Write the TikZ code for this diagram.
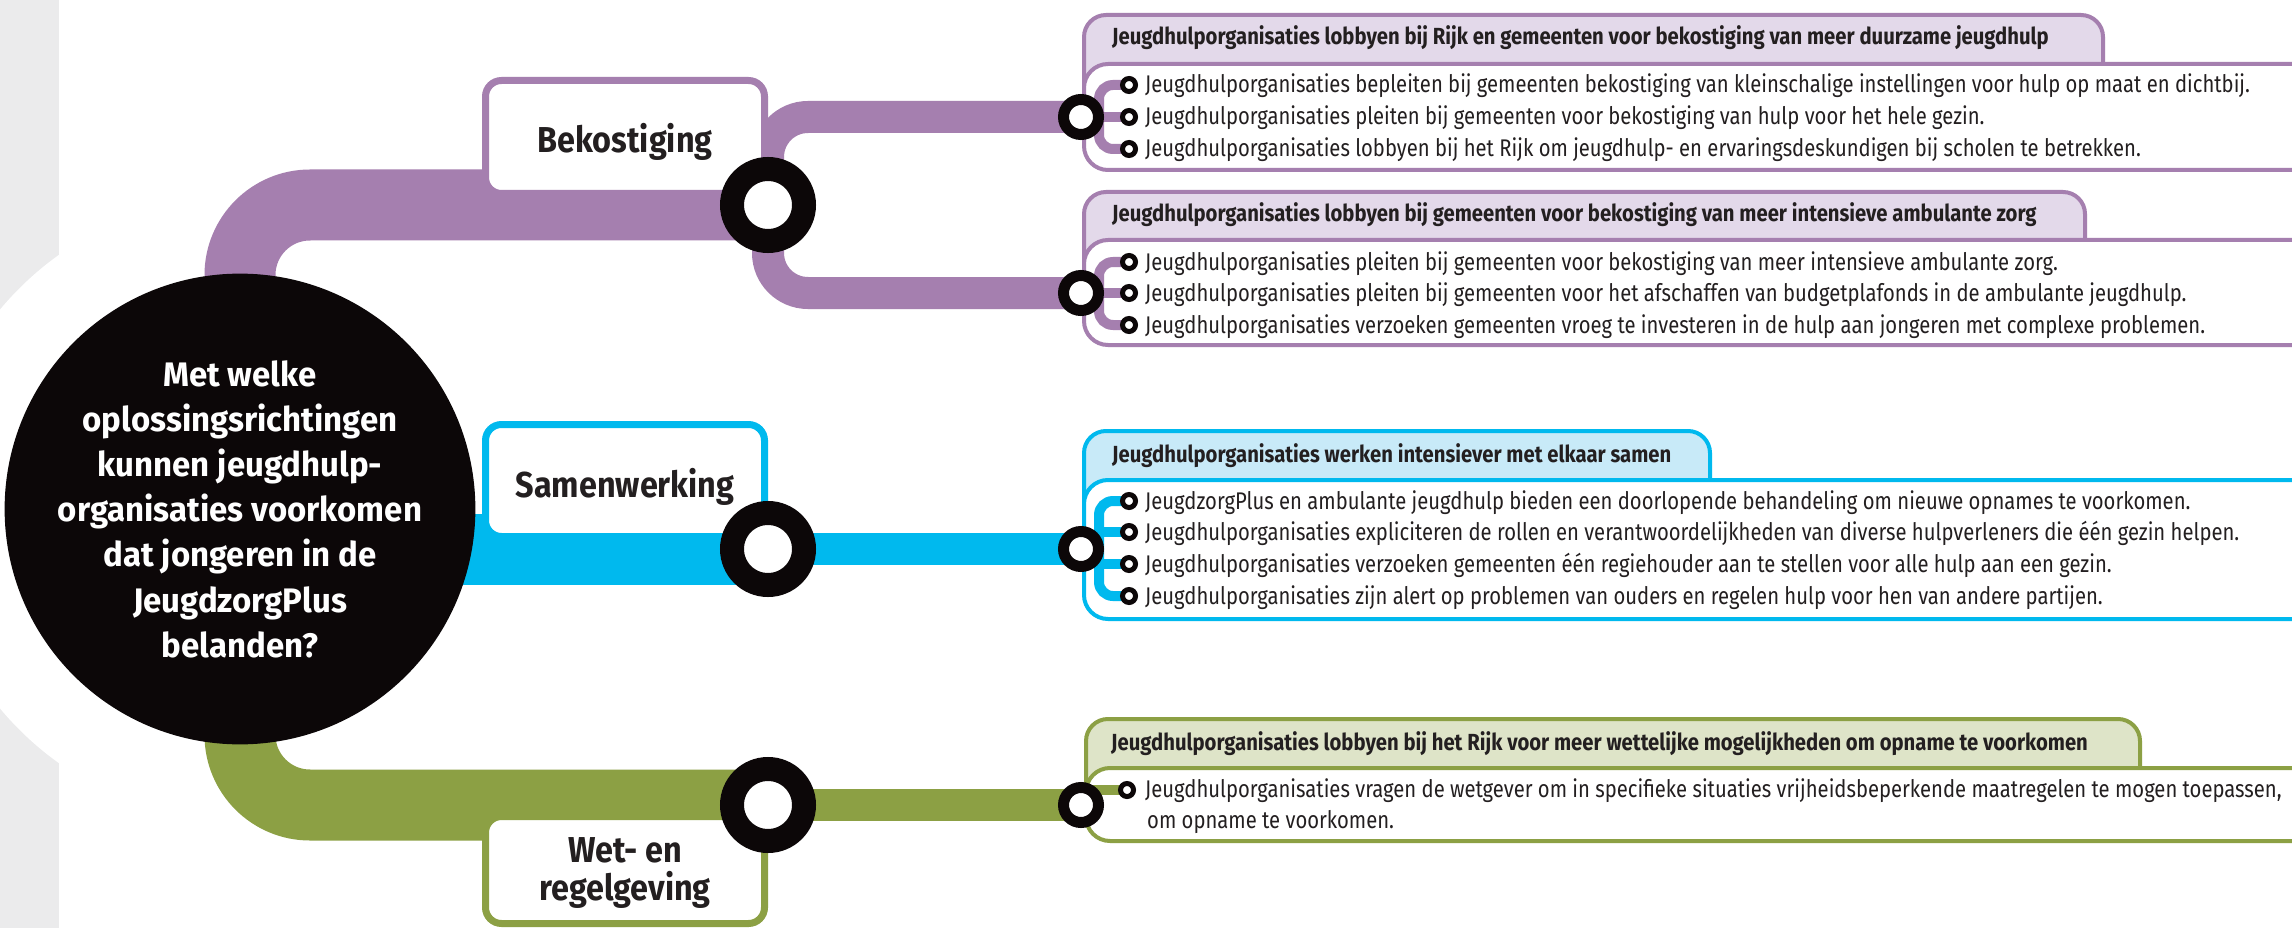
\documentclass[tikz,border=0pt]{standalone}
\usepackage{fontspec}
\setmainfont{Fira Sans}
\newfontfamily\itemfont[FakeStretch=0.84]{Fira Sans}
\newfontfamily\headfont[FakeStretch=0.87]{Fira Sans}
\newfontfamily\labfont[FakeStretch=0.9]{Fira Sans}
\newfontfamily\qfont[FakeStretch=0.97]{Fira Sans}
\usetikzlibrary{calc}
\pgfdeclarelayer{bg}
\pgfdeclarelayer{lines}
\pgfsetlayers{bg,lines,main}
\definecolor{purpleC}{HTML}{A57FAF}
\definecolor{purpleL}{HTML}{E3D9EA}
\definecolor{cyanC}{HTML}{00B9EE}
\definecolor{cyanL}{HTML}{C8EAF8}
\definecolor{greenC}{HTML}{8CA044}
\definecolor{greenL}{HTML}{DEE4C8}
\definecolor{grayC}{HTML}{EBEBEC}
\definecolor{ringC}{HTML}{0C0708}
\definecolor{txtC}{HTML}{231F20}
\tikzset{
  band/.style={line width=71pt, rounded corners=70pt},
  branch/.style={line width=32pt, rounded corners=40pt},
  sub/.style={line width=10pt, rounded corners=14pt},
  bigring/.style={circle, draw=ringC, line width=24pt, fill=white, minimum size=72pt, inner sep=0pt},
  smallring/.style={circle, draw=ringC, line width=11pt, fill=white, minimum size=35pt, inner sep=0pt},
  bullet/.style={circle, draw=ringC, line width=5pt, fill=white, minimum size=13pt, inner sep=0pt},
  labelbox/.style={draw=#1, line width=7pt, fill=white, rounded corners=16pt, minimum width=279pt, inner sep=0pt},
  labeltext/.style={font=\labfont\bfseries\fontsize{36}{38}\selectfont, text=txtC, inner sep=0pt, anchor=base},
  headtext/.style={font=\headfont\bfseries\fontsize{23.3}{27}\selectfont, text=txtC, inner sep=0pt, anchor=base west},
  itemtext/.style={font=\itemfont\fontsize{24.1}{31}\selectfont, text=txtC, inner sep=0pt, anchor=base west},
  boxline/.style={draw=#1, line width=4pt},
}
\begin{document}
\begin{tikzpicture}[x=1pt,y=-1pt]
\useasboundingbox (0,0) rectangle (2292,928);

% central question
\node[circle, fill=ringC, minimum size=446pt, inner sep=0pt, align=center, text=white,
      font=\qfont\bfseries\fontsize{34}{45.2}\selectfont] (q) at (240,509)
  {Met welke\\oplossingsrichtingen\\kunnen jeugdhulp-\\organisaties voorkomen\\dat jongeren in de\\JeugdzorgPlus\\belanden?};

% label boxes
\node[labelbox=purpleC, minimum height=113pt] (lB) at (625,137) {};
\node[labelbox=cyanC, minimum height=112pt] (lS) at (625,480.5) {};
\node[labelbox=greenC, minimum height=107pt] (lW) at (625,870) {};
\node[labeltext] (tB) at (625,153) {Bekostiging};
\node[labeltext] (tS) at (625,497) {Samenwerking};
\node[labeltext] (tW1) at (625,862) {Wet- en};
\node[labeltext] (tW2) at (625,900) {regelgeving};

% rings
\node[bigring] (rB) at (768,205) {};
\node[bigring] (rS) at (768,549) {};
\node[bigring] (rW) at (768,805) {};
\node[smallring] (r1) at (1081,117) {};
\node[smallring] (r2) at (1081,293) {};
\node[smallring] (r3) at (1081,549) {};
\node[smallring] (r4) at (1081,805) {};

% bullets
\node[bullet] (b11) at (1129,85) {};
\node[bullet] (b12) at (1129,117) {};
\node[bullet] (b13) at (1129,149) {};
\node[bullet] (b21) at (1129,262) {};
\node[bullet] (b22) at (1129,293) {};
\node[bullet] (b23) at (1129,325) {};
\node[bullet] (b31) at (1129,501) {};
\node[bullet] (b32) at (1129,532) {};
\node[bullet] (b33) at (1129,564) {};
\node[bullet] (b34) at (1129,596) {};
\node[bullet] (b41) at (1127,790) {};

% headers
\node[headtext] (h1) at (1112,45) {Jeugdhulporganisaties lobbyen bij Rijk en gemeenten voor bekostiging van meer duurzame jeugdhulp};
\node[headtext] (h2) at (1112,222) {Jeugdhulporganisaties lobbyen bij gemeenten voor bekostiging van meer intensieve ambulante zorg};
\node[headtext] (h3) at (1112,462) {Jeugdhulporganisaties werken intensiever met elkaar samen};
\node[headtext] (h4) at (1111,750) {Jeugdhulporganisaties lobbyen bij het Rijk voor meer wettelijke mogelijkheden om opname te voorkomen};

% items
\node[itemtext] (t11) at (1145,93) {Jeugdhulporganisaties bepleiten bij gemeenten bekostiging van kleinschalige instellingen voor hulp op maat en dichtbij.};
\node[itemtext] (t12) at (1145,125) {Jeugdhulporganisaties pleiten bij gemeenten voor bekostiging van hulp voor het hele gezin.};
\node[itemtext] (t13) at (1145,157) {Jeugdhulporganisaties lobbyen bij het Rijk om jeugdhulp- en ervaringsdeskundigen bij scholen te betrekken.};
\node[itemtext] (t21) at (1145,270) {Jeugdhulporganisaties pleiten bij gemeenten voor bekostiging van meer intensieve ambulante zorg.};
\node[itemtext] (t22) at (1145,301) {Jeugdhulporganisaties pleiten bij gemeenten voor het afschaffen van budgetplafonds in de ambulante jeugdhulp.};
\node[itemtext] (t23) at (1145,333) {Jeugdhulporganisaties verzoeken gemeenten vroeg te investeren in de hulp aan jongeren met complexe problemen.};
\node[itemtext] (t31) at (1145,509) {JeugdzorgPlus en ambulante jeugdhulp bieden een doorlopende behandeling om nieuwe opnames te voorkomen.};
\node[itemtext] (t32) at (1145,540) {Jeugdhulporganisaties expliciteren de rollen en verantwoordelijkheden van diverse hulpverleners die één gezin helpen.};
\node[itemtext] (t33) at (1145,572) {Jeugdhulporganisaties verzoeken gemeenten één regiehouder aan te stellen voor alle hulp aan een gezin.};
\node[itemtext] (t34) at (1145,604) {Jeugdhulporganisaties zijn alert op problemen van ouders en regelen hulp voor hen van andere partijen.};
\node[itemtext] (t41) at (1145,797) {Jeugdhulporganisaties vragen de wetgever om in specifieke situaties vrijheidsbeperkende maatregelen te mogen toepassen,};
\node[itemtext] (t42) at (1147,828) {om opname te voorkomen.};

\coordinate (v1) at ([xshift=18pt]r1.center);
\coordinate (v2) at ([xshift=18pt]r2.center);
\coordinate (v3) at ([xshift=18pt]r3.center);

\begin{pgfonlayer}{bg}
\clip (0,0) rectangle (2292,928);
\fill[white] (0,0) rectangle (2292,928);
\fill[grayC] (0,0) rectangle (59,928);
\fill[white] (q.center) circle[radius=312pt];
% main bands
\draw[band, purpleC] (q.center) |- (rB.center);
\draw[band, cyanC] (q.center |- rS.center) -- (rS.center);
\draw[band, greenC] (q.center) |- (rW.center);
% branches
\draw[branch, purpleC] (rB.center) |- (r1.center);
\draw[branch, purpleC] (rB.center) |- (r2.center);
\draw[branch, cyanC] (rS.center) -- (r3.center);
\draw[branch, greenC] (rW.center) -- (r4.center);
% box 1
\draw[boxline=purpleC, fill=purpleL, rounded corners=22pt] (1084,110) -- (1084,15) -- (2103,15) -- (2103,110);
\draw[boxline=purpleC, fill=white, rounded corners=24pt] (2400,64) -- (1084,64) -- (1084,170) -- (2400,170);
% box 2
\draw[boxline=purpleC, fill=purpleL, rounded corners=22pt] (1084,290) -- (1084,192) -- (2085,192) -- (2085,290);
\draw[boxline=purpleC, fill=white, rounded corners=24pt] (2400,240) -- (1084,240) -- (1084,345) -- (2400,345);
% box 3
\draw[boxline=cyanC, fill=cyanL, rounded corners=22pt] (1084,530) -- (1084,431) -- (1710,431) -- (1710,530);
\draw[boxline=cyanC, fill=white, rounded corners=24pt] (2400,480) -- (1084,480) -- (1084,619) -- (2400,619);
% box 4
\draw[boxline=greenC, fill=greenL, rounded corners=22pt] (1086,820) -- (1086,719) -- (2140,719) -- (2140,820);
\draw[boxline=greenC, fill=white, rounded corners=24pt] (2400,768) -- (1086,768) -- (1086,841) -- (2400,841);
\end{pgfonlayer}

\begin{pgfonlayer}{lines}
\draw[sub, purpleC] (b11.center) -| (v1) |- (b13.center);
\draw[sub, purpleC] (r1.center) -- (b12.center);
\draw[sub, purpleC] (b21.center) -| (v2) |- (b23.center);
\draw[sub, purpleC] (r2.center) -- (b22.center);
\draw[sub, cyanC] (b31.center) -| (v3) |- (b34.center);
\draw[sub, cyanC] (v3 |- b32.center) -- (b32.center);
\draw[sub, cyanC] (v3 |- b33.center) -- (b33.center);
\draw[sub, greenC] (r4.center |- b41.center) -- (b41.center);
\end{pgfonlayer}
\end{tikzpicture}
\end{document}
